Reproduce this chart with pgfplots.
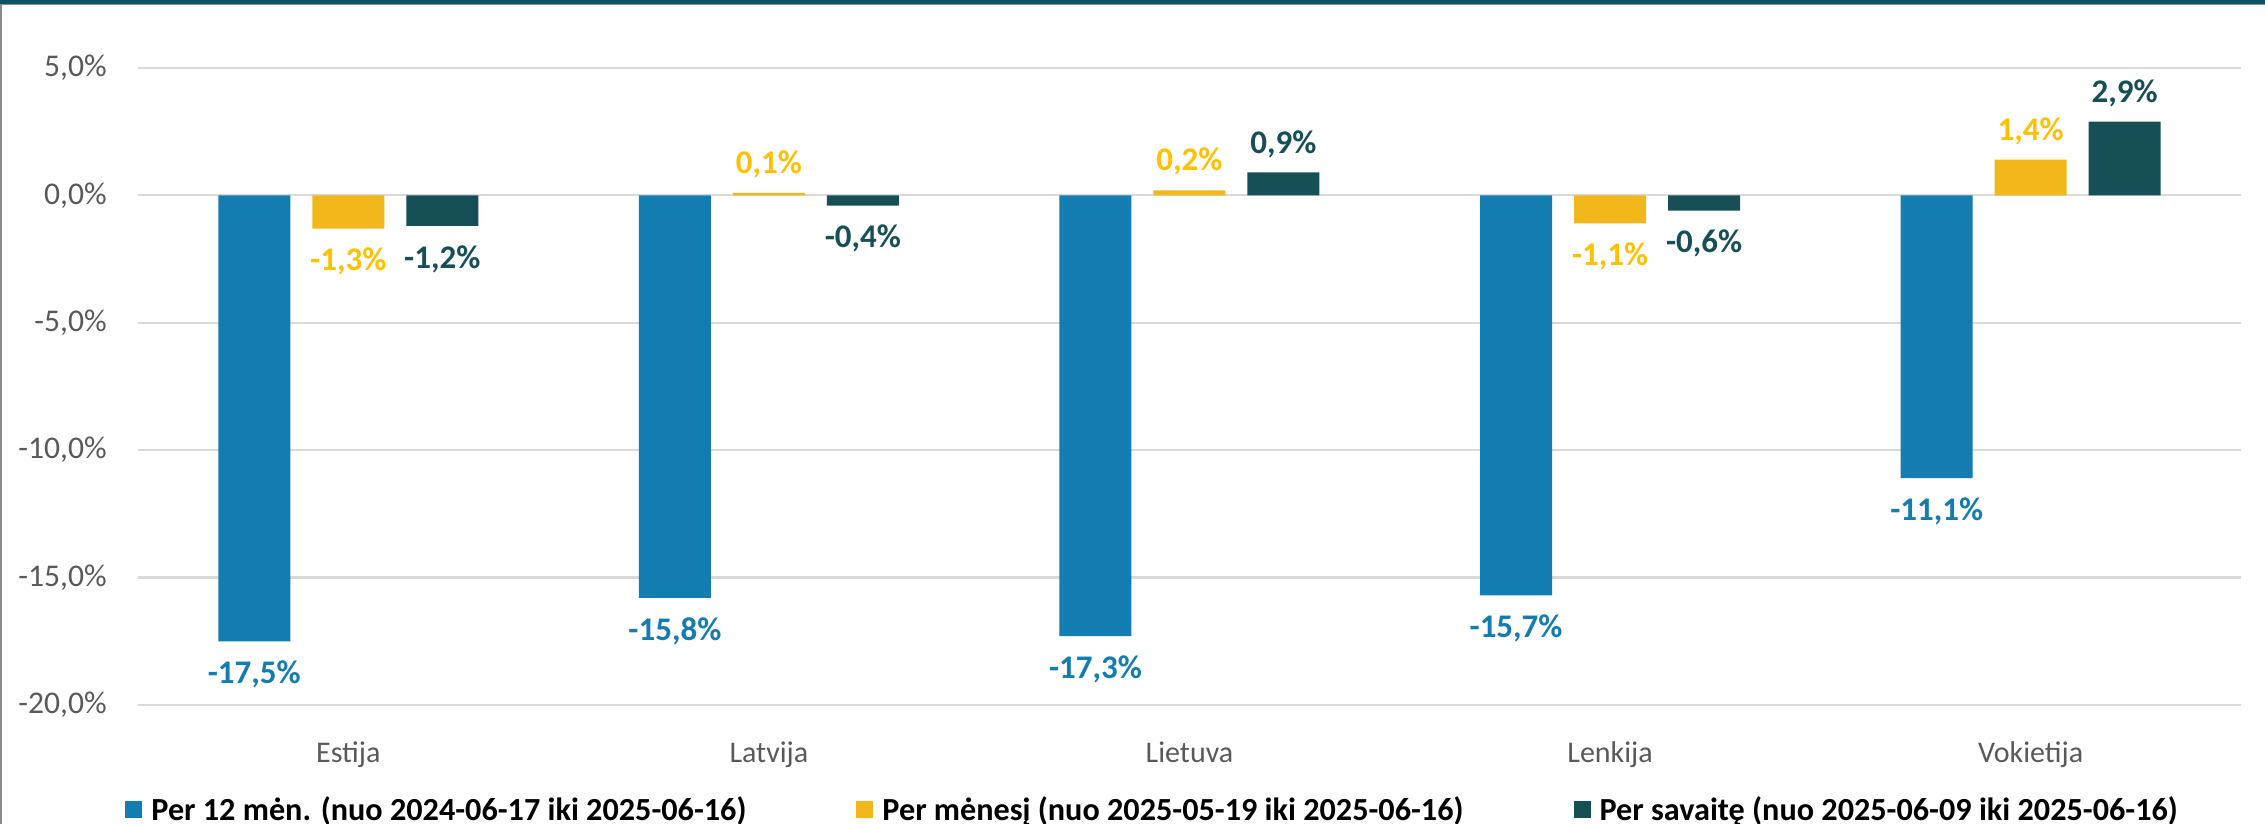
\documentclass[border=0pt]{standalone}
\usepackage{fontspec}
\setmainfont{Carlito}
\usepackage{pgfplots}
\pgfplotsset{compat=1.18}
\definecolor{cblue}{HTML}{137CB0}
\definecolor{cyellow}{HTML}{F2B71A}
\definecolor{cyellowlab}{HTML}{FFC000}
\definecolor{cteal}{HTML}{174F57}
\definecolor{ctop}{HTML}{0E545E}
\definecolor{cgrid}{HTML}{D9D9D9}
\definecolor{ctick}{HTML}{595959}
\begin{document}
\begin{tikzpicture}
\begin{axis}[
  at={(0,0)}, anchor=south west,
  scale only axis, width=1051.5pt, height=318.5pt,
  xmin=-0.5, xmax=4.5, ymin=-20, ymax=5,
  ybar=11pt, bar width=36pt,
  axis line style={draw=none},
  major tick length=0pt,
  ymajorgrids, grid style={cgrid, line width=1.1pt},
  ytick={-20,-15,-10,-5,0,5},
  xtick={0,1,2,3,4},
  xticklabels={Estija,Latvija,Lietuva,Lenkija,Vokietija},
  /pgf/number format/assume math mode=true,
  yticklabel={\pgfmathprintnumber[fixed,fixed zerofill,precision=1,use comma]{\tick}\%},
  yticklabel style={font=\fontsize{15.8}{19}\selectfont, text=ctick, anchor=east, inner xsep=0pt, xshift=-15.5pt},
  xticklabel style={font=\fontsize{15}{18}\selectfont, text=ctick, anchor=base, yshift=-28.5pt},
  nodes near coords={\raisebox{0pt}[\height][0pt]{\pgfmathprintnumber[fixed,fixed zerofill,precision=1,use comma,assume math mode=true]{\pgfplotspointmeta}\%}},
  nodes near coords style={font=\bfseries\fontsize{16.5}{20}\selectfont, inner ysep=9.5pt, inner xsep=0pt},
  legend style={at={(0.4820,-0.1648)}, anchor=center, draw=none, fill=none,
    font=\bfseries\fontsize{16.1}{19}\selectfont, inner sep=0pt,
    nodes={inner xsep=0pt},
    /tikz/every even column/.append style={column sep=55pt},
    /tikz/every odd column/.append style={column sep=4.5pt}},
  legend columns=3,
  legend image code/.code={\fill[#1] (0pt,-4.25pt) rectangle (8.5pt,4.25pt);},
]
\addplot[fill=cblue, draw=none, every node near coord/.append style={text=cblue}]
  coordinates {(0,-17.5) (1,-15.8) (2,-17.3) (3,-15.7) (4,-11.1)};
\addplot[fill=cyellow, draw=none, every node near coord/.append style={text=cyellowlab}]
  coordinates {(0,-1.3) (1,0.1) (2,0.2) (3,-1.1) (4,1.4)};
\addplot[fill=cteal, draw=none, every node near coord/.append style={text=cteal}]
  coordinates {(0,-1.2) (1,-0.4) (2,0.9) (3,-0.6) (4,2.9)};
\legend{Per 12 mėn. (nuo 2024-06-17 iki 2025-06-16),Per mėnesį (nuo 2025-05-19 iki 2025-06-16),Per savaitę (nuo 2025-06-09 iki 2025-06-16)}
\end{axis}
\pgfresetboundingbox
\path[use as bounding box] (-69pt,-59.5pt) rectangle (1063.5pt,352.5pt);
\fill[ctop] (-69pt,350.5pt) rectangle (1063.5pt,352.5pt);
\draw[gray!90, line width=0.4pt] (-69pt,350.3pt) -- (1063.5pt,350.3pt);
\draw[gray!90, line width=1.2pt] (-68.4pt,-59.5pt) -- (-68.4pt,350.5pt);
\end{tikzpicture}
\end{document}
